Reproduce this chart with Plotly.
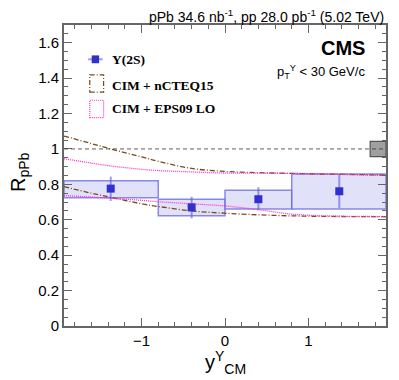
import plotly.graph_objects as go

# Upsilon(2S) RpPb vs rapidity
bin_lo = [-1.93, -0.8, 0.0, 0.8]
bin_hi = [-0.8, 0.0, 0.8, 1.93]
y_cm = [-1.37, -0.40, 0.40, 1.37]
rppb = [0.776, 0.670, 0.716, 0.761]
stat_up = [0.068, 0.060, 0.068, 0.095]
stat_dn = [0.070, 0.062, 0.061, 0.095]
syst_hi = [0.821, 0.716, 0.767, 0.859]
syst_lo = [0.725, 0.623, 0.661, 0.661]
global_unc = 0.043

# theory bands (upper / lower edge)
th_x = [-1.93, -1.6, -1.37, -1.0, -0.8, -0.4, 0.0, 0.4, 0.8, 1.2, 1.6, 1.93]
ncteq_hi = [1.073, 1.03, 1.00, 0.955, 0.93, 0.89, 0.873, 0.866, 0.862, 0.858, 0.855, 0.852]
ncteq_lo = [0.787, 0.75, 0.727, 0.69, 0.675, 0.65, 0.637, 0.628, 0.622, 0.619, 0.618, 0.617]
eps_hi = [0.945, 0.92, 0.904, 0.885, 0.878, 0.870, 0.864, 0.863, 0.862, 0.858, 0.854, 0.850]
eps_lo = [0.737, 0.728, 0.721, 0.710, 0.702, 0.690, 0.678, 0.657, 0.632, 0.622, 0.619, 0.618]

fig = go.Figure()

# systematic boxes
for lo, hi, a, b in zip(bin_lo, bin_hi, syst_lo, syst_hi):
    fig.add_shape(type="rect", x0=lo, x1=hi, y0=a, y1=b, xref="x", yref="y",
                  fillcolor="rgba(200,200,245,0.55)",
                  line=dict(color="rgba(110,110,225,0.8)", width=1.5), layer="below")

# global uncertainty box
fig.add_shape(type="rect", x0=1.74, x1=1.93, y0=1 - global_unc, y1=1 + global_unc,
              fillcolor="#a0a0a0", line=dict(color="#555555", width=1.2))

fig.add_shape(type="line", x0=-1.93, x1=1.93, y0=1, y1=1,
              line=dict(color="#333333", width=0.8, dash="4px,3px"))

for ys in (ncteq_hi, ncteq_lo):
    fig.add_trace(go.Scatter(x=th_x, y=ys, mode="lines", line_shape="spline",
                             line=dict(color="#7a4a1a", width=1.3, dash="5px,2px,1px,2px"),
                             showlegend=False, hoverinfo="skip"))
for ys in (eps_hi, eps_lo):
    fig.add_trace(go.Scatter(x=th_x, y=ys, mode="lines", line_shape="spline",
                             line=dict(color="#ff33cc", width=1.3, dash="1px,1px"),
                             showlegend=False, hoverinfo="skip"))

fig.add_trace(go.Scatter(
    x=y_cm, y=rppb, mode="markers",
    marker=dict(symbol="square", size=8, color="#3030cc"),
    error_y=dict(type="data", symmetric=False, array=stat_up, arrayminus=stat_dn,
                 color="rgba(90,90,220,0.6)", thickness=2, width=0),
    showlegend=False))

axis_common = dict(showline=True, linecolor="#666666", linewidth=2, mirror="allticks",
                   ticks="inside", ticklen=8, tickcolor="#666666", showgrid=False,
                   zeroline=False,
                   tickfont=dict(family="Liberation Sans", size=15, color="black"))

fig.update_xaxes(range=[-1.93, 1.93], tickvals=[-1, 0, 1], ticktext=["\u22121", "0", "1"],
                 minor=dict(ticks="inside", ticklen=4, dtick=0.2, tick0=0, tickcolor="#666666"),
                 **axis_common)
fig.update_yaxes(range=[0, 1.7], dtick=0.2, tickformat="~g",
                 minor=dict(ticks="inside", ticklen=4, dtick=0.05, tickcolor="#666666"),
                 **axis_common)


def note(text, x, y, size, family="Liberation Sans", **kw):
    d = dict(text=text, x=x, y=y, xref="paper", yref="paper", showarrow=False,
             xanchor="left", yanchor="middle",
             font=dict(family=family, size=size, color="black"))
    d.update(kw)
    return d


ann = [
    note("pPb 34.6 nb<sup>-1</sup>, pp 28.0 pb<sup>-1</sup> (5.02 TeV)", 1.0, 1.0, 14,
         xanchor="right", yanchor="bottom", yshift=-2),
    note("<b>CMS</b>", 0.94, 0.925, 20, xanchor="right"),
    note("p<sub>T</sub><sup>\u03a5</sup> < 30 GeV/c", 0.94, 0.845, 13, xanchor="right"),
    note("R<sub>pPb</sub>", -0.138, 0.51, 20, xanchor="center", textangle=-90),
    note("y<sup>\u03a5</sup><sub>CM</sub>", 0.5, -0.12, 20, xanchor="center"),
    note("<b>\u03a5(2S)</b>", 0.143, 0.886, 13.5, family="Liberation Serif"),
    note("<b>CIM + nCTEQ15</b>", 0.143, 0.80, 13.5, family="Liberation Serif"),
    note("<b>CIM + EPS09 LO</b>", 0.143, 0.724, 13.5, family="Liberation Serif"),
]

# legend symbols
fig.add_shape(type="line", xref="paper", yref="paper", x0=0.075, x1=0.12, y0=0.886, y1=0.886,
              line=dict(color="rgba(90,90,220,0.6)", width=2))
fig.add_shape(type="rect", xref="paper", yref="paper", x0=0.086, x1=0.109, y0=0.873, y1=0.899,
              fillcolor="#3030cc", line=dict(width=0))
fig.add_shape(type="rect", xref="paper", yref="paper", x0=0.08, x1=0.123, y0=0.777, y1=0.834,
              line=dict(color="#7a4a1a", width=1.2, dash="5px,2px,1px,2px"))
fig.add_shape(type="rect", xref="paper", yref="paper", x0=0.08, x1=0.123, y0=0.692, y1=0.75,
              line=dict(color="#ff33cc", width=1.2, dash="1px,1px"))

# page has an 8px body margin, so the figure is a bit smaller than the window
fig.update_layout(width=391, height=372, margin=dict(l=56, r=13, t=17, b=54),
                  plot_bgcolor="white", paper_bgcolor="white", annotations=ann,
                  showlegend=False)

fig.write_html("out.html")
